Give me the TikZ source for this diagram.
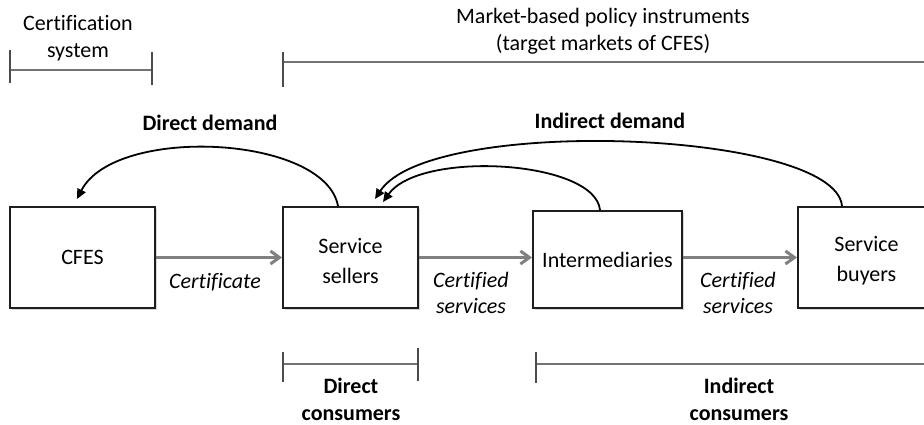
\documentclass[tikz,border=0pt]{standalone}
\usepackage{fontspec}
\setmainfont{Carlito}[Ligatures=NoCommon]
\usetikzlibrary{arrows.meta,calc,shadows}
\definecolor{flowgray}{RGB}{128,128,128}
\definecolor{rulegray}{RGB}{115,115,115}
\definecolor{boxline}{RGB}{30,30,30}
\newcommand{\firstlinelift}{\rule{0pt}{21.5pt}}
\begin{document}
\begin{tikzpicture}[x=1pt,y=-1pt,
  txt/.style={font=\fontsize{22}{27}\selectfont, inner sep=0pt, align=center},
  head/.style={font=\fontsize{22}{27}\selectfont\bfseries, inner sep=0pt, align=center},
  lab/.style={font=\fontsize{22}{26}\selectfont\itshape, inner sep=0pt, align=center},
  boxnode/.style={draw=boxline, line width=2pt, fill=white, inner sep=0pt, align=center,
    font=\fontsize{22}{30}\selectfont,
    drop shadow={shadow xshift=1.5pt, shadow yshift=-1.5pt, opacity=0.35, fill=black!45}},
  flow/.style={draw=flowgray, line width=3pt, -{Straight Barb[length=9pt,width=13pt]}},
  demand/.style={draw=black, line width=1.8pt, -{Triangle[length=10pt,width=9pt]}},
  span/.style={draw=rulegray, line width=2.2pt},
  tick/.style={draw=black!70, line width=1.2pt}]

\path[use as bounding box, clip] (0,0) rectangle (924,425);

% the four actors
\node[boxnode, minimum width=145, minimum height=101] (cfes)    at (82.5,257.5)  {CFES};
\node[boxnode, minimum width=135, minimum height=101] (sellers) at (350.5,257.5) {\firstlinelift Service\\sellers};
\node[boxnode, minimum width=149, minimum height=97]  (inter)   at (607.5,259.5) {Intermediaries};
\node[boxnode, minimum width=137, minimum height=101] (buyers)  at (866.5,257.5) {\firstlinelift Service\\buyers};

% flows of certificates and certified services
\draw[flow] (cfes.east) -- (sellers.west);
\draw[flow] (sellers.east) -- (sellers.east -| inter.west);
\draw[flow] (inter.east |- sellers.east) -- (buyers.west);

% (multi-line nodes sit on the baseline of their last line)
\node[lab, anchor=base] (certificate) at (215,288) {Certificate};
\node[lab, anchor=base] (certified-a) at (471,313) {Certified\\services};
\node[lab, anchor=base] (certified-b) at (738,313) {Certified\\services};

% demand feedback
\coordinate (dd-start) at ($(sellers.north west)+(56,0)$);
\coordinate (dd-tip)   at ($(cfes.north)+(-5.5,-7)$);
\draw[demand] (dd-start) .. controls (325,135) and (115,125) .. (dd-tip);

\coordinate (id-start-a) at ($(inter.north)+(-7.5,0)$);
\coordinate (id-tip-a)   at ($(sellers.north)+(32.5,-4)$);
\draw[demand] (id-start-a) .. controls (595,160) and (420,150) .. (id-tip-a);

\coordinate (id-start-b) at ($(buyers.north)+(-24.5,0)$);
\coordinate (id-tip-b)   at ($(sellers.north)+(24.5,-7)$);
\draw[demand] (id-start-b) .. controls (835,130) and (430,115) .. (id-tip-b);

\node[head, anchor=base] (direct-demand)   at (210,131) {Direct demand};
\node[head, anchor=base] (indirect-demand) at (610,129) {Indirect demand};

% scope brackets above
\node[txt, anchor=base] (cert-system) at (78,58) {Certification\\system};
\coordinate (cs-l) at (10,70);
\coordinate (cs-r) at (152,70);
\draw[span] (cs-l) -- (cs-r);
\draw[tick] ($(cs-l)+(0,-20)$) -- ($(cs-l)+(0,13)$);
\draw[tick] ($(cs-r)+(0,-18)$) -- ($(cs-r)+(0,15)$);

\node[txt, anchor=base] (market) at (603,51) {Market-based policy instruments\\(target markets of CFES)};
\coordinate (mk-l) at (283,62);
\coordinate (mk-r) at (930,62);
\draw[span] (mk-l) -- (mk-r);
\draw[tick] ($(mk-l)+(0,-10)$) -- ($(mk-l)+(0,25)$);

% scope brackets below
\coordinate (dc-l) at (283,364);
\coordinate (dc-r) at (418,364);
\draw[span] (dc-l) -- (dc-r);
\draw[tick] ($(dc-l)+(0,-12)$) -- ($(dc-l)+(0,18)$);
\draw[tick] ($(dc-r)+(0,-16)$) -- ($(dc-r)+(0,17)$);
\node[head, anchor=base] (direct-consumers) at (351,420) {Direct\\consumers};

\coordinate (ic-l) at (536,364);
\coordinate (ic-r) at (930,364);
\draw[span] (ic-l) -- (ic-r);
\draw[tick] ($(ic-l)+(0,-12)$) -- ($(ic-l)+(0,19)$);
\node[head, anchor=base] (indirect-consumers) at (739,420) {Indirect\\consumers};

\end{tikzpicture}
\end{document}
